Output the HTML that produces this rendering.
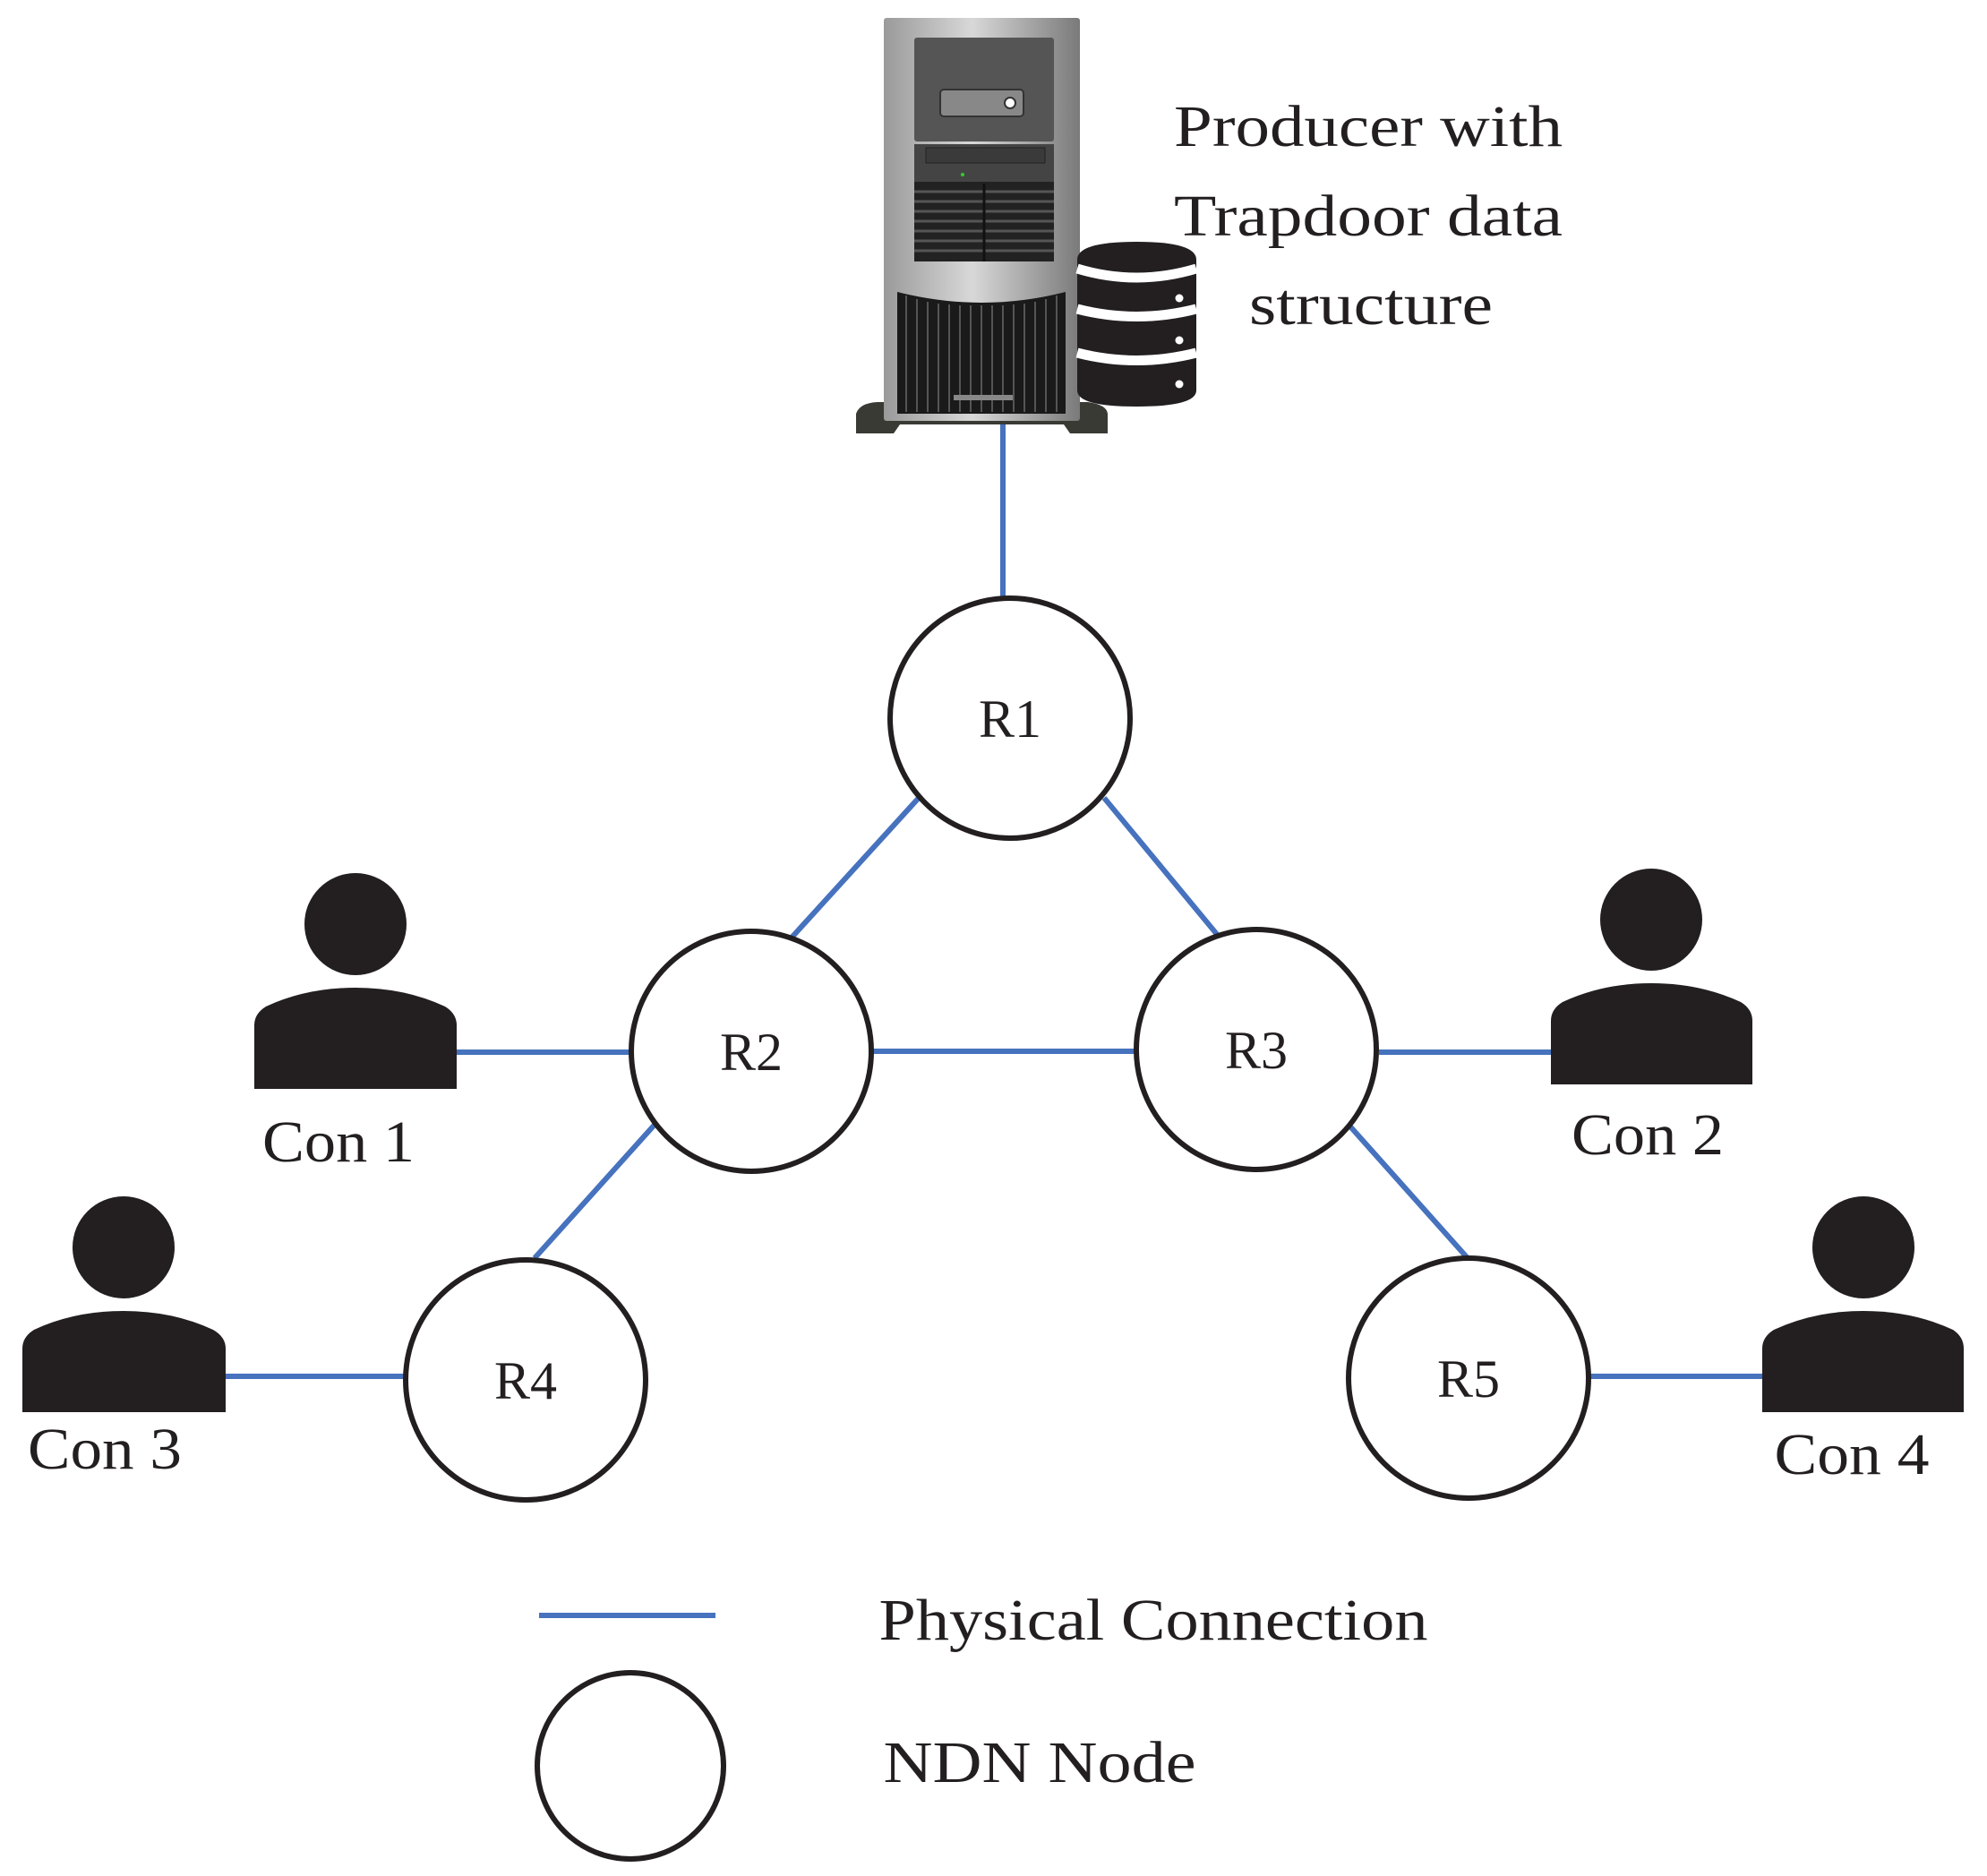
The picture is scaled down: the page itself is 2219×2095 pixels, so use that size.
<!DOCTYPE html>
<html><head><meta charset="utf-8"><style>html,body{margin:0;padding:0;background:#fff}svg{display:block}</style></head>
<body>
<svg width="2219" height="2095" viewBox="0 0 2219 2095" xmlns="http://www.w3.org/2000/svg">
<defs>
<linearGradient id="tg" x1="0" x2="1"><stop offset="0" stop-color="#9a9a9a"/><stop offset="0.45" stop-color="#d8d8d8"/><stop offset="1" stop-color="#7a7a7a"/></linearGradient>
</defs>
<g stroke="#4672be" stroke-width="6" fill="none">
<line x1="1120" y1="468" x2="1120" y2="667"/>
<line x1="1026" y1="891" x2="884" y2="1047"/>
<line x1="1233" y1="891" x2="1362" y2="1047"/>
<line x1="973" y1="1174" x2="1270" y2="1174"/>
<line x1="731" y1="1256" x2="597" y2="1405"/>
<line x1="1507" y1="1257" x2="1639" y2="1405"/>
<line x1="508" y1="1175" x2="705" y2="1175"/>
<line x1="1540" y1="1175" x2="1738" y2="1175"/>
<line x1="251" y1="1537" x2="454" y2="1537"/>
<line x1="1775" y1="1537" x2="1977" y2="1537"/>
<line x1="602" y1="1804" x2="799" y2="1804"/>
</g>
<g stroke="#231f20" stroke-width="6" fill="#fff">
<circle cx="1128" cy="802" r="134"/>
<circle cx="839" cy="1174" r="134"/>
<circle cx="1403" cy="1172" r="134"/>
<circle cx="587" cy="1541" r="134"/>
<circle cx="1640" cy="1539" r="134"/>
<circle cx="704" cy="1972" r="104"/>
</g>
<g font-family="'Liberation Serif', serif" fill="#231f20" text-anchor="middle" lengthAdjust="spacingAndGlyphs">
<text x="1128" y="823" font-size="60">R1</text>
<text x="839" y="1195" font-size="60">R2</text>
<text x="1403" y="1193" font-size="60">R3</text>
<text x="587" y="1562" font-size="60">R4</text>
<text x="1640" y="1560" font-size="60">R5</text>
<text x="378" y="1297" font-size="66" textLength="170" lengthAdjust="spacingAndGlyphs">Con 1</text>
<text x="1840" y="1289" font-size="66" textLength="170" lengthAdjust="spacingAndGlyphs">Con 2</text>
<text x="117" y="1640" font-size="66" textLength="172" lengthAdjust="spacingAndGlyphs">Con 3</text>
<text x="2068" y="1646" font-size="66" textLength="173" lengthAdjust="spacingAndGlyphs">Con 4</text>
<text x="1528" y="163" font-size="66" textLength="434" lengthAdjust="spacingAndGlyphs">Producer with</text>
<text x="1528" y="263" font-size="66" textLength="434" lengthAdjust="spacingAndGlyphs">Trapdoor data</text>
<text x="1531" y="362" font-size="66" textLength="272" lengthAdjust="spacingAndGlyphs">structure</text>
<text x="1288" y="1831" font-size="66" textLength="613" lengthAdjust="spacingAndGlyphs">Physical Connection</text>
<text x="1161" y="1990" font-size="66" textLength="349" lengthAdjust="spacingAndGlyphs">NDN Node</text>
</g>
<g fill="#231f20">
<ellipse cx="397" cy="1032" rx="57" ry="57"/>
<path d="M284 1216 L284 1145 Q284 1132 297 1124 Q342 1103 397 1103 Q452 1103 497 1124 Q510 1132 510 1145 L510 1216 Z"/>
<ellipse cx="1844" cy="1027" rx="57" ry="57"/>
<path d="M1732 1211 L1732 1140 Q1732 1127 1745 1119 Q1790 1098 1844 1098 Q1899 1098 1944 1119 Q1957 1127 1957 1140 L1957 1211 Z"/>
<ellipse cx="138" cy="1393" rx="57" ry="57"/>
<path d="M25 1577 L25 1506 Q25 1493 38 1485 Q83 1464 138 1464 Q193 1464 238 1485 Q252 1493 252 1506 L252 1577 Z"/>
<ellipse cx="2081" cy="1393" rx="57" ry="57"/>
<path d="M1968 1577 L1968 1506 Q1968 1493 1981 1485 Q2026 1464 2081 1464 Q2136 1464 2181 1485 Q2193 1493 2193 1506 L2193 1577 Z"/>
</g>
<!-- server -->
<path d="M956 484 L956 462 Q960 450 980 449 L1215 449 Q1236 452 1237 462 L1237 484 L1195 484 L1188 474 L1005 474 L998 484 Z" fill="#3a3a35"/>
<rect x="987" y="20" width="219" height="450" rx="3" fill="url(#tg)"/>
<rect x="1021" y="42" width="156" height="116" rx="3" fill="#555"/>
<rect x="1050" y="100" width="93" height="30" rx="4" fill="#888" stroke="#333" stroke-width="2"/>
<circle cx="1128" cy="115" r="6" fill="#fff" stroke="#333" stroke-width="2"/>
<rect x="1021" y="161" width="156" height="42" fill="#444"/>
<rect x="1034" y="165" width="133" height="17" fill="#3a3a3a" stroke="#222" stroke-width="1"/>
<circle cx="1075" cy="195" r="2" fill="#3c3"/>
<rect x="1021" y="203" width="156" height="89" fill="#222"/>
<g stroke="#555" stroke-width="3">
<line x1="1021" y1="214" x2="1177" y2="214"/><line x1="1021" y1="225" x2="1177" y2="225"/>
<line x1="1021" y1="236" x2="1177" y2="236"/><line x1="1021" y1="247" x2="1177" y2="247"/>
<line x1="1021" y1="258" x2="1177" y2="258"/><line x1="1021" y1="269" x2="1177" y2="269"/>
<line x1="1021" y1="280" x2="1177" y2="280"/>
</g>
<line x1="1099" y1="205" x2="1099" y2="292" stroke="#111" stroke-width="3"/>
<path d="M1002 326 Q1096 350 1190 326 L1190 462 L1002 462 Z" fill="#1a1a1a"/>
<g stroke="#555" stroke-width="2">
<line x1="1012" y1="330" x2="1012" y2="460"/><line x1="1024" y1="334" x2="1024" y2="460"/><line x1="1036" y1="337" x2="1036" y2="460"/><line x1="1048" y1="339" x2="1048" y2="460"/><line x1="1060" y1="340" x2="1060" y2="460"/><line x1="1072" y1="341" x2="1072" y2="460"/><line x1="1084" y1="341" x2="1084" y2="460"/><line x1="1096" y1="341" x2="1096" y2="460"/><line x1="1108" y1="341" x2="1108" y2="460"/><line x1="1120" y1="341" x2="1120" y2="460"/><line x1="1132" y1="340" x2="1132" y2="460"/><line x1="1144" y1="339" x2="1144" y2="460"/><line x1="1156" y1="337" x2="1156" y2="460"/><line x1="1168" y1="334" x2="1168" y2="460"/><line x1="1180" y1="330" x2="1180" y2="460"/>
</g>
<rect x="1065" y="441" width="66" height="6" fill="#888"/>
<!-- database -->
<path d="M1203 290 Q1203 270 1269 270 Q1336 270 1336 290 L1336 436 Q1336 454 1269 454 Q1203 454 1203 436 Z" fill="#231f20"/>
<g fill="none" stroke="#fff" stroke-width="11">
<path d="M1203 300 Q1269 320 1336 300"/>
<path d="M1203 345 Q1269 362 1336 345"/>
<path d="M1203 394 Q1269 411 1336 394"/>
</g>
<g fill="#fff"><circle cx="1317" cy="333" r="4.5"/><circle cx="1317" cy="380" r="4.5"/><circle cx="1317" cy="429" r="4.5"/></g>
</svg>
</body></html>
